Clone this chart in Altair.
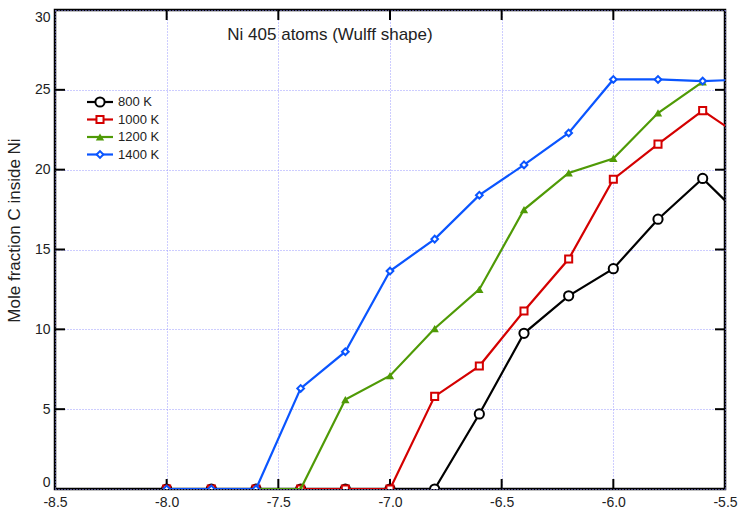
import altair as alt
import pandas as pd

# ---- data ----
x_vals = [-8.0, -7.8, -7.6, -7.4, -7.2, -7.0, -6.8, -6.6, -6.4, -6.2, -6.0, -5.8, -5.6, -5.4]
t800 = [0, 0, 0, 0, 0, 0, 0, 4.7, 9.75, 12.1, 13.8, 16.9, 19.45, 16.7]
t1000 = [0, 0, 0, 0, 0, 0, 5.8, 7.7, 11.15, 14.4, 19.4, 21.6, 23.7, 21.8]
t1200 = [0, 0, 0, 0, 5.6, 7.1, 10.05, 12.5, 17.5, 19.8, 20.7, 23.55, 25.5, None]
t1400 = [0, 0, 0, 6.3, 8.6, 13.65, 15.65, 18.4, 20.3, 22.3, 25.65, 25.65, 25.55, 25.65]

series_names = ["800 K", "1000 K", "1200 K", "1400 K"]
series_vals = [t800, t1000, t1200, t1400]
series_colors = ["#000000", "#d40000", "#4f9a06", "#0a55ff"]
series_shapes = ["circle", "square", "triangle-up", "diamond"]
series_sizes = [85, 50, 70, 45]
series_filled = [False, False, True, False]

x_ticks = [-8.5, -8.0, -7.5, -7.0, -6.5, -6.0, -5.5]
y_ticks = [0, 5, 10, 15, 20, 25, 30]
x_inner_ticks = [-8.0, -7.5, -7.0, -6.5, -6.0]
y_inner_ticks = [5, 10, 15, 20, 25]

title_text = "Ni 405 atoms (Wulff shape)"
y_title = "Mole fraction C inside Ni"

# ---- tables ----
rows = []
for name, vals in zip(series_names, series_vals):
    for xv, yv in zip(x_vals, vals):
        if yv is not None:
            rows.append({"series": name, "x": xv, "y": yv})
df = pd.DataFrame(rows)
legend_df = pd.DataFrame({"series": series_names, "idx": list(range(len(series_names)))})
xt_df = pd.DataFrame({"t": x_inner_ticks})
yt_df = pd.DataFrame({"t": y_inner_ticks})

W, H = 670, 479
FONT = "Liberation Sans"
grid_color = "#9a9aff"

xscale = alt.Scale(domain=[-8.5, -5.5], nice=False, zero=False)
yscale = alt.Scale(domain=[0, 30], nice=False)

xaxis = alt.Axis(values=x_ticks, title=None, ticks=False, domain=False,
                 labelExpr="replace(format(datum.value, '.1f'), '\u2212', '-')",
                 grid=True, gridColor=grid_color, gridDash=[1, 2], gridWidth=1,
                 labelFontSize=14, labelFont=FONT, labelColor="#222222", labelPadding=6,
                 labelOverlap=False, labelFlush=False, labelBound=False)
yaxis = alt.Axis(values=y_ticks, format="d", title=y_title, ticks=False, domain=False,
                 grid=True, gridColor=grid_color, gridDash=[1, 2], gridWidth=1,
                 labelFontSize=14, labelFont=FONT, labelColor="#222222", labelPadding=5,
                 labelOverlap=False, labelFlush=True, labelBound=False,
                 titleFont=FONT, titleFontSize=17, titleFontWeight="normal", titleColor="#222222",
                 titleX=-41, titleY=220, titleAngle=-90, titleAlign="center",
                 titleBaseline="middle")


def X(field):
    return alt.X(field, scale=xscale, axis=xaxis, title=None)


def Y(field):
    return alt.Y(field, scale=yscale, axis=yaxis, title=y_title)


layers = []

# axes / grid carrier (invisible points)
layers.append(alt.Chart(df).mark_point(opacity=0).encode(x=X("x:Q"), y=Y("y:Q")))

# inward ticks
tick_style = dict(color="black", strokeWidth=2)
layers.append(alt.Chart(xt_df).mark_rule(**tick_style).encode(
    x=X("t:Q"), y=alt.value(H), y2=alt.value(H - 10)))
layers.append(alt.Chart(xt_df).mark_rule(**tick_style).encode(
    x=X("t:Q"), y=alt.value(0), y2=alt.value(10)))
layers.append(alt.Chart(yt_df).mark_rule(**tick_style).encode(
    y=Y("t:Q"), x=alt.value(0), x2=alt.value(10)))
layers.append(alt.Chart(yt_df).mark_rule(**tick_style).encode(
    y=Y("t:Q"), x=alt.value(W), x2=alt.value(W - 10)))

# series
for name, col, shp, sz, fl in zip(series_names, series_colors, series_shapes,
                                   series_sizes, series_filled):
    sub = alt.Chart(df).transform_filter(alt.datum.series == name)
    layers.append(sub.mark_line(color=col, strokeWidth=2.2, clip=True).encode(
        x=X("x:Q"), y=Y("y:Q"), order="x:Q"))
    if fl:
        pt = sub.mark_point(shape=shp, filled=True, color=col, size=sz, opacity=1, clip=True)
    else:
        pt = sub.mark_point(shape=shp, filled=False, fill="white", fillOpacity=1,
                            stroke=col, strokeWidth=2, size=sz, opacity=1, clip=True)
    layers.append(pt.encode(x=X("x:Q"), y=Y("y:Q")))

    # legend entry (pixel positions computed from row index)
    leg = alt.Chart(legend_df).transform_filter(alt.datum.series == name).transform_calculate(
        ly="92 + 17.5 * datum.idx", lx1="32", lx2="58", lm="45", lt="63")
    layers.append(leg.mark_rule(color=col, strokeWidth=2.2).encode(
        x=alt.X("lx1:Q", scale=None), x2="lx2:Q", y=alt.Y("ly:Q", scale=None)))
    if fl:
        lp = leg.mark_point(shape=shp, filled=True, color=col, size=sz, opacity=1)
    else:
        lp = leg.mark_point(shape=shp, filled=False, fill="white", fillOpacity=1,
                            stroke=col, strokeWidth=2, size=sz, opacity=1)
    layers.append(lp.encode(x=alt.X("lm:Q", scale=None), y=alt.Y("ly:Q", scale=None)))
    layers.append(leg.mark_text(align="left", baseline="middle", font=FONT, fontSize=13,
                                color="#222222").encode(
        x=alt.X("lt:Q", scale=None), y=alt.Y("ly:Q", scale=None), text="series:N"))

# in-plot title
layers.append(alt.Chart(legend_df.head(1)).mark_text(
    align="center", baseline="middle", font=FONT, fontSize=17, color="#222222"
).encode(x=alt.value(275), y=alt.value(25), text=alt.value(title_text)))

chart = alt.layer(*layers).properties(
    width=W, height=H,
    autosize=alt.AutoSizeParams(type="none"),
    padding={"left": 55, "top": 10, "right": 14, "bottom": 28},
    background="white",
).configure_view(stroke="black", strokeWidth=2.5)

chart.save("out.html", embed_options={"renderer": "svg", "actions": False})
